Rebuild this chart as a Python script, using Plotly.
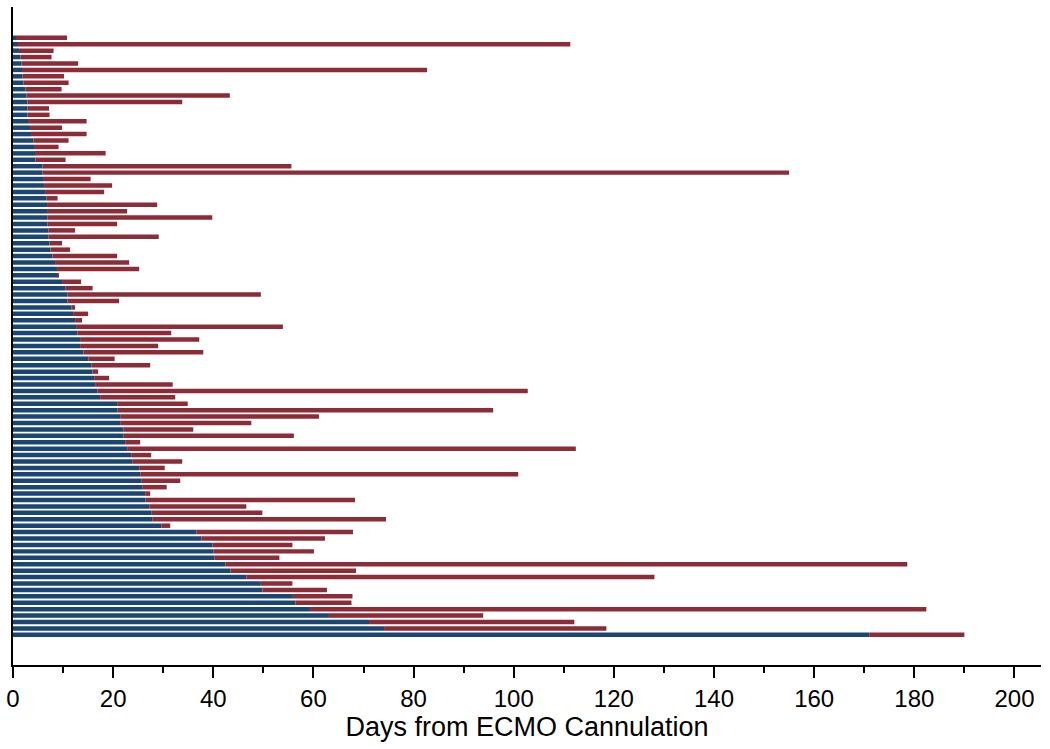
import plotly.graph_objects as go

# Days on ECMO (blue segment end) and total follow-up day (red segment end), one row per patient
ecmo_days = [0.6, 1.0, 1.2, 1.5, 1.7, 1.8, 1.9, 2.1, 2.5, 2.7,
             2.9, 2.9, 2.9, 3.0, 3.4, 3.6, 4.1, 4.2, 4.4, 4.5,
             5.9, 5.9, 6.0, 6.2, 6.4, 6.7, 6.8, 6.8, 6.9, 6.9,
             7.1, 7.1, 7.3, 7.5, 7.9, 8.4, 8.8, 8.9, 9.8, 10.5,
             10.9, 10.9, 11.7, 12.0, 12.4, 12.6, 12.9, 13.4, 13.4, 14.1,
             15.1, 15.7, 15.9, 16.2, 16.4, 16.9, 17.4, 20.8, 20.9, 21.4,
             21.4, 22.1, 22.1, 22.4, 22.8, 23.6, 23.8, 25.2, 25.4, 25.6,
             25.8, 26.4, 26.5, 27.2, 27.7, 27.8, 29.6, 36.6, 37.6, 39.8,
             40.0, 40.2, 42.4, 43.4, 46.6, 49.5, 49.8, 55.9, 56.4, 59.3,
             63.1, 71.1, 74.1, 171.0]
total_days = [10.8, 111.3, 8.1, 7.7, 13.0, 82.7, 10.2, 11.1, 9.7, 43.3,
              33.8, 7.2, 7.3, 14.7, 9.8, 14.7, 11.1, 9.1, 18.5, 10.5,
              55.6, 155.0, 15.5, 19.8, 18.2, 8.9, 28.8, 22.8, 39.8, 20.8,
              12.4, 29.1, 9.8, 11.4, 20.8, 23.2, 25.2, 9.2, 13.6, 15.9,
              49.5, 21.2, 12.4, 15.0, 13.8, 53.9, 31.6, 37.2, 29.0, 38.0,
              20.3, 27.4, 17.0, 19.2, 31.9, 102.8, 32.4, 34.9, 95.9, 61.1,
              47.6, 36.0, 56.1, 25.4, 112.4, 27.6, 33.8, 30.3, 100.9, 33.4,
              30.7, 27.4, 68.3, 46.6, 49.8, 74.5, 31.4, 67.9, 62.3, 55.8,
              60.1, 53.2, 178.6, 68.5, 128.1, 55.8, 62.7, 67.8, 67.6, 182.4,
              93.9, 112.1, 118.5, 190.0]
patients = list(range(1, len(ecmo_days) + 1))
post_days = [t - e for t, e in zip(total_days, ecmo_days)]

x_ticks = [0, 20, 40, 60, 80, 100, 120, 140, 160, 180, 200]

BLUE = "#1b4674"
RED = "#8c2c37"

fig = go.Figure()
fig.add_trace(go.Bar(y=patients, x=ecmo_days, orientation="h",
                     marker=dict(color=BLUE, line=dict(width=0)), showlegend=False))
fig.add_trace(go.Bar(y=patients, x=post_days, base=ecmo_days, orientation="h",
                     marker=dict(color=RED, line=dict(width=0)), showlegend=False))

fig.update_layout(
    width=1050, height=749,
    margin=dict(l=13, r=9, t=7, b=84),
    paper_bgcolor="white", plot_bgcolor="white",
    barmode="overlay", bargap=0.3,
    font=dict(family="Liberation Sans, Arial, sans-serif", color="black"),
)
fig.update_xaxes(
    automargin=False,
    ticklabeloverflow="allow",
    range=[0, 205.3], tickvals=x_ticks, ticktext=[str(v) for v in x_ticks],
    ticks="outside", ticklen=11, tickwidth=1.5, tickcolor="black",
    minor=dict(ticks="outside", ticklen=6, tickwidth=1.5, tickcolor="black", dtick=10, tick0=0, showgrid=False),
    showline=True, linecolor="black", linewidth=1.5,
    showgrid=False, zeroline=False,
    tickfont=dict(size=24),
    title=dict(text="Days from ECMO Cannulation", font=dict(size=27), standoff=4),
)
fig.update_yaxes(
    automargin=False,
    range=[98.7, -3.8], showticklabels=False, ticks="",
    showline=True, linecolor="black", linewidth=1.5,
    showgrid=False, zeroline=False,
)

# remove the browser's default body margin so the figure fills the window exactly
fig.write_html("out.html", config={"displayModeBar": False},
               post_script="document.body.style.margin='0';")
